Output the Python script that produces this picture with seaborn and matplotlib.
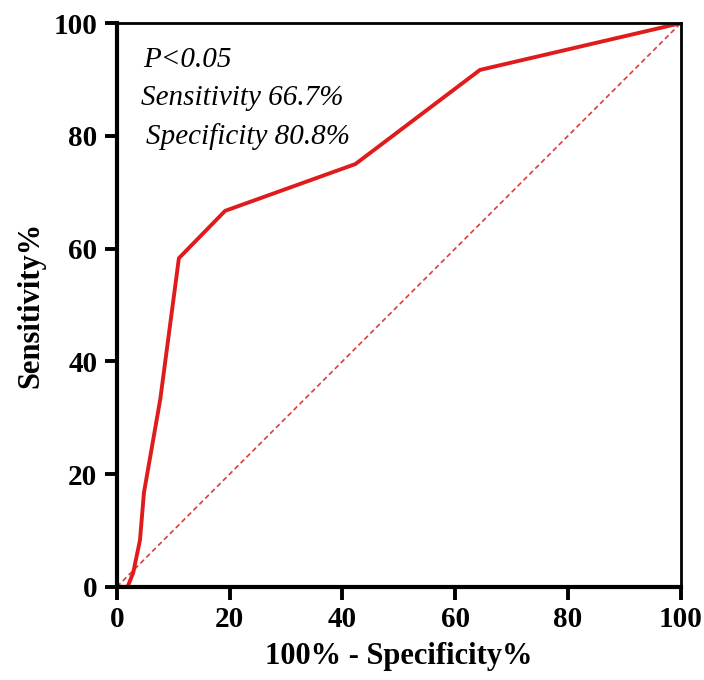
import matplotlib
matplotlib.use("Agg")
import matplotlib.pyplot as plt
import numpy as np
import pandas as pd
import seaborn as sns

# ROC curve points (100% - specificity, sensitivity)
fpr = [0, 1.9, 2.9, 4.1, 4.8, 7.7, 11.0, 19.2, 42.3, 64.4, 100]
tpr = [0, 0, 2.5, 8.3, 16.7, 33.3, 58.3, 66.7, 75.0, 91.7, 100]
ref_line = [0, 100]
ticks = [0, 20, 40, 60, 80, 100]
notes = ["P<0.05", "Sensitivity 66.7%", "Specificity 80.8%"]

sns.set_style("ticks", {"text.color": "black", "axes.labelcolor": "black",
                        "xtick.color": "black", "ytick.color": "black"})
plt.rcParams['font.family'] = ['Liberation Serif', 'DejaVu Serif']

df = pd.DataFrame({"fpr": fpr, "tpr": tpr})

fig = plt.figure(figsize=(7.04, 6.8), dpi=100)
ax = fig.add_axes([0.166, 0.137, 0.801, 0.829])

ax.plot(ref_line, ref_line, color="#d04040", lw=1.2, ls=(0, (3, 2)))
sns.lineplot(data=df, x="fpr", y="tpr", sort=False, color="#e01b1b", lw=2.8, ax=ax)

ax.set_xlim(0, 100)
ax.set_ylim(0, 100)
ax.set_xticks(ticks)
ax.set_yticks(ticks)
ax.tick_params(axis="both", direction="out", length=9, width=2.8, labelsize=21, pad=5)
for lab in ax.get_xticklabels() + ax.get_yticklabels():
    lab.set_fontweight("bold")
for name, sp in ax.spines.items():
    sp.set_visible(True)
    sp.set_linewidth(3 if name in ("left", "bottom") else 2)
    sp.set_color("black")

ax.set_xlabel("100% - Specificity%", fontsize=22, fontweight="bold", labelpad=6)
ax.set_ylabel("Sensitivity%", fontsize=22, fontweight="bold", labelpad=6)

ax.text(4.6, 93.5, notes[0], fontsize=21, style="italic", va="center")
ax.text(4.2, 86.7, notes[1], fontsize=21, style="italic", va="center")
ax.text(5.2, 79.8, notes[2], fontsize=21, style="italic", va="center")

fig.savefig("out.png", dpi=100)
